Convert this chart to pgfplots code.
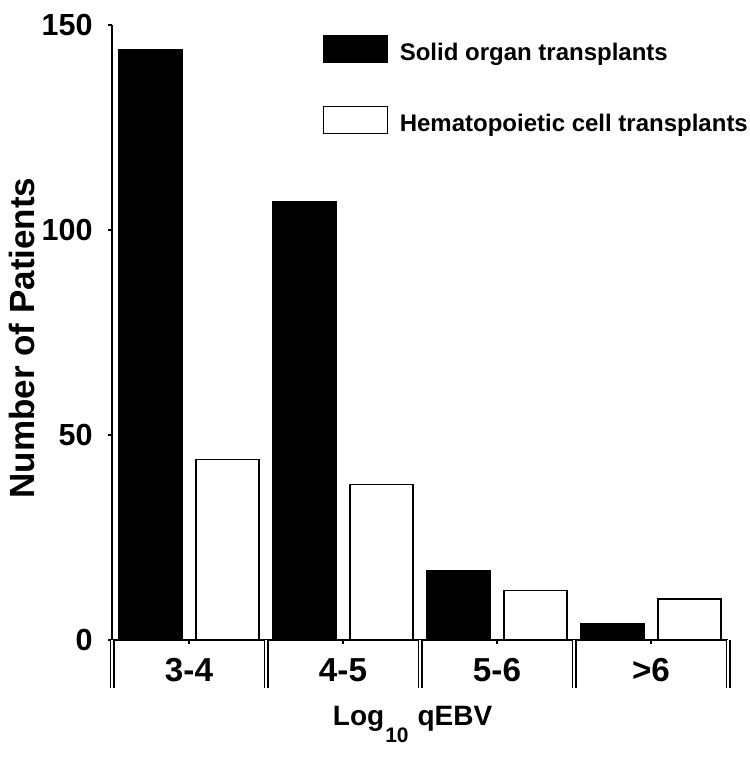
\documentclass[border=0pt]{standalone}
\usepackage{pgfplots}
\pgfplotsset{compat=1.18}
\usepackage{fontspec}
\setmainfont{Liberation Sans}
\newlength\pxu
\setlength\pxu{0.4pt}

\begin{document}
\bfseries
\begin{tikzpicture}
% picture frame in reference pixels, axis origin at (112,640)
\useasboundingbox (-112\pxu,-118\pxu) rectangle (638\pxu,640\pxu);
\begin{axis}[
    at={(0,0)}, anchor=south west,
    scale only axis,
    width=616\pxu, height=615\pxu,
    xmin=-0.5, xmax=3.5,
    ymin=0, ymax=150,
    axis x line*=bottom,
    axis y line*=left,
    axis line style={line width=1.2\pxu},
    tick align=outside,
    ytick={0,50,100,150},
    xtick={0,1,2,3},
    xticklabels={3-4,4-5,5-6,{>6}},
    major tick length=4\pxu,
    tick style={black, line width=1.2\pxu},
    extra x ticks={-0.5,0.5,1.5,2.5,3.5},
    extra x tick labels={},
    extra x tick style={major tick length=48\pxu,
        tick style={black, double, double distance=2.6\pxu, line width=1.2\pxu}},
    /pgf/number format/assume math mode=true,
    yticklabel style={font=\fontsize{12.2pt}{14pt}\selectfont\bfseries, inner sep=0pt, anchor=east, xshift=-15\pxu},
    xticklabel style={font=\fontsize{13.3pt}{16pt}\selectfont\bfseries, inner sep=0pt, anchor=base, yshift=-37\pxu},
    ylabel={Number of Patients},
    ylabel style={font=\fontsize{14pt}{16pt}\selectfont\bfseries, inner sep=0pt,
        at={(axis description cs:-0.126,0.491)}, anchor=base},
    xlabel={Log\hspace{1\pxu}\raisebox{-0.62em}{\fontsize{8.4pt}{10pt}\selectfont 10}\hspace{9\pxu}qEBV},
    xlabel style={font=\fontsize{11.2pt}{13pt}\selectfont\bfseries, inner sep=0pt,
        at={(axis description cs:0.488,0)}, anchor=base, yshift=-85\pxu},
    legend style={draw=none, fill=none, at={(axis description cs:0.341,0.985)}, anchor=north west,
        inner sep=0pt, row sep=42\pxu, font=\fontsize{9.6pt}{11pt}\selectfont\bfseries,
        nodes={inner sep=0pt},
        /tikz/every odd column/.style={column sep=12\pxu}},
    legend cell align=left,
]
% Solid organ transplants
\addplot[ybar, bar width=0.41, bar shift=-0.25, fill=black, draw=black, line width=1.2\pxu,
    legend image code/.code={\draw[fill=black, draw=black, line width=1.2\pxu] (0pt,-9\pxu) rectangle (64\pxu,18\pxu);}]
    coordinates {(0,144) (1,107) (2,17) (3,4)};
% Hematopoietic cell transplants
\addplot[ybar, bar width=0.41, bar shift=0.25, fill=white, draw=black, line width=1.2\pxu,
    legend image code/.code={\draw[fill=white, draw=black, line width=1.2\pxu] (0pt,-9\pxu) rectangle (64\pxu,18\pxu);}]
    coordinates {(0,44) (1,38) (2,12) (3,10)};
\legend{Solid organ transplants, Hematopoietic cell transplants}
\end{axis}
\end{tikzpicture}
\end{document}
